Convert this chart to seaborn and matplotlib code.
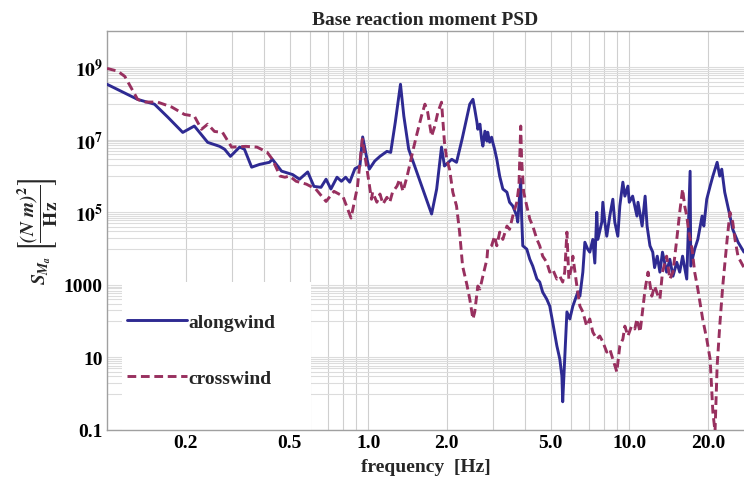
import matplotlib
matplotlib.use("Agg")
import pandas as pd
import seaborn as sns
import matplotlib.pyplot as plt
from matplotlib.patches import Rectangle
from matplotlib.ticker import FixedLocator, FixedFormatter, NullFormatter

# alongwind base moment PSD
along_freq = [0.100, 0.131, 0.152, 0.171, 0.195, 0.216, 0.243, 0.270, 0.282, 0.297,
              0.322, 0.336, 0.358, 0.384, 0.419, 0.430, 0.466, 0.514, 0.546, 0.587,
              0.620, 0.660, 0.690, 0.720, 0.760, 0.790, 0.820, 0.850, 0.890, 0.930,
              0.953, 0.990, 1.010, 1.060, 1.110, 1.180, 1.220, 1.270, 1.330, 1.370,
              1.430, 1.570, 1.750, 1.830, 1.910, 1.960, 2.090, 2.180, 2.290, 2.450,
              2.520, 2.560, 2.610, 2.630, 2.680, 2.720, 2.750, 2.800, 2.850, 2.870,
              2.920, 2.970, 3.000, 3.050, 3.110, 3.190, 3.280, 3.400, 3.480, 3.580,
              3.710, 3.740, 3.840, 3.870, 3.910, 4.050, 4.160, 4.270, 4.430, 4.540,
              4.660, 4.830, 4.960, 5.090, 5.280, 5.420, 5.520, 5.560, 5.660, 5.770,
              5.920, 6.080, 6.350, 6.470, 6.640, 6.760, 6.930, 7.060, 7.250, 7.380,
              7.510, 7.580, 7.850, 7.920, 8.060, 8.200, 8.420, 8.650, 8.800, 9.040,
              9.200, 9.450, 9.620, 9.880, 10.00, 10.30, 10.70, 10.80, 11.20, 11.50,
              11.70, 12.00, 12.30, 12.50, 12.80, 13.10, 13.40, 13.90, 14.30, 14.70,
              15.20, 15.60, 16.00, 16.60, 17.10, 17.20, 17.80, 18.30, 19.00, 19.30,
              19.80, 20.40, 20.90, 21.70, 22.20, 22.60, 23.20, 24.30, 24.90, 26.10,
              27.50]
along_psd = [3.4e8, 1.3e8, 9.6e7, 4.2e7, 1.6e7, 2.4e7, 8.5e6, 6.6e6, 5.5e6, 3.5e6,
             6.3e6, 5.5e6, 1.76e6, 2.1e6, 2.4e6, 2.9e6, 1.37e6, 1.1e6, 8.2e5, 1.3e6,
             5.2e5, 4.9e5, 8.2e5, 4.4e5, 9.3e5, 7.2e5, 9.3e5, 6.8e5, 1.6e6, 1.9e6,
             1.2e7, 2.9e6, 1.55e6, 2.6e6, 3.5e6, 4.8e6, 4.5e6, 3.0e7, 3.4e8, 4.5e7,
             5.5e6, 8.2e5, 9.0e4, 4.4e5, 6.3e6, 1.9e6, 2.9e6, 2.4e6, 1.05e7, 9.6e7,
             1.31e8, 7.0e7, 3.05e7, 1.96e7, 2.7e7, 1.04e7, 6.7e6, 1.73e7, 9.2e6, 1.62e7,
             8.6e6, 1.18e7, 8.6e6, 5.5e6, 2.9e6, 9.9e5, 4.4e5, 3.6e5, 1.9e5, 1.5e5,
             7.9e4, 5.4e4, 8.2e5, 7.9e4, 1.2e4, 9.7e3, 5.1e3, 3.3e3, 1.45e3, 1.2e3,
             630, 405, 260, 94, 21, 9.0, 3.1, 0.6, 9.0, 180,
             115, 260, 630, 490, 2.25e3, 1.5e4, 9.7e3, 8.0e3, 1.8e4, 4.0e3,
             1.0e5, 1.8e4, 5.4e4, 1.9e5, 5.4e4, 2.2e4, 7.9e4, 2.3e5, 5.4e4, 2.2e4,
             1.5e5, 6.8e5, 2.8e5, 5.3e5, 1.9e5, 2.8e5, 7.9e4, 1.9e5, 4.2e4, 2.8e5,
             4.2e4, 1.2e4, 8.0e3, 3.0e3, 6.2e3, 2.25e3, 8.0e3, 2.25e3, 5.1e3, 1.74e3,
             4.2e3, 2.25e3, 6.2e3, 1.45e3, 1.36e6, 3.3e3, 9.7e3, 1.8e4, 7.9e4, 4.2e4,
             2.3e5, 5.3e5, 1.0e6, 2.4e6, 1.0e6, 1.55e6, 3.6e5, 7.9e4, 3.4e4, 1.5e4,
             8.0e3]

# crosswind base moment PSD
cross_freq = [0.100, 0.110, 0.117, 0.131, 0.139, 0.156, 0.177, 0.198, 0.216, 0.230,
              0.243, 0.258, 0.277, 0.300, 0.340, 0.375, 0.410, 0.430, 0.460, 0.480,
              0.500, 0.530, 0.580, 0.630, 0.690, 0.740, 0.800, 0.860, 0.910, 0.950,
              0.990, 1.030, 1.040, 1.080, 1.110, 1.140, 1.180, 1.210, 1.240, 1.290,
              1.320, 1.360, 1.410, 1.440, 1.480, 1.530, 1.600, 1.650, 1.690, 1.750,
              1.800, 1.850, 1.910, 1.960, 2.000, 2.050, 2.110, 2.180, 2.240, 2.300,
              2.390, 2.450, 2.520, 2.560, 2.630, 2.680, 2.750, 2.850, 2.870, 2.970,
              3.050, 3.110, 3.190, 3.280, 3.400, 3.480, 3.580, 3.710, 3.780, 3.840,
              3.870, 3.940, 4.050, 4.160, 4.270, 4.430, 4.540, 4.660, 4.830, 4.960,
              5.090, 5.280, 5.420, 5.560, 5.660, 5.770, 5.870, 6.030, 6.080, 6.300,
              6.470, 6.640, 6.870, 7.060, 7.250, 7.510, 7.710, 7.920, 8.200, 8.420,
              8.650, 8.960, 9.200, 9.450, 9.620, 9.880, 10.20, 10.50, 10.70, 11.00,
              11.30, 11.50, 11.80, 12.20, 12.50, 12.90, 13.10, 13.40, 13.90, 14.30,
              14.70, 15.20, 15.60, 16.00, 16.30, 16.60, 16.90, 17.40, 17.80, 18.30,
              19.10, 19.80, 20.40, 20.90, 21.30, 21.70, 22.20, 22.80, 23.70, 24.30,
              24.90, 25.40, 26.10, 27.50]
cross_psd = [9.3e8, 7.8e8, 5.6e8, 1.3e8, 1.1e8, 1.1e8, 8.0e7, 5.0e7, 4.5e7, 1.95e7,
             2.7e7, 1.7e7, 1.6e7, 6.3e6, 6.6e6, 6.3e6, 4.6e6, 2.9e6, 1.0e6, 9.3e5,
             1.0e6, 7.2e5, 6.0e5, 4.4e5, 2.0e5, 3.8e5, 2.8e5, 7.0e4, 5.0e5, 1.05e7,
             1.55e6, 2.3e5, 3.6e5, 1.9e5, 3.2e5, 1.7e5, 2.6e5, 1.9e5, 3.6e5, 5.3e5,
             8.2e5, 3.8e5, 9.9e5, 1.9e6, 4.6e6, 1.26e7, 4.5e7, 9.6e7, 5.8e7, 1.26e7,
             2.4e7, 5.8e7, 1.09e8, 8.6e6, 2.9e6, 1.55e6, 3.6e5, 1.5e5, 2.85e4, 3.3e3,
             1.0e3, 405, 115, 180, 930, 770, 1.74e3, 5.1e3, 9.7e3, 1.2e4,
             2.2e4, 1.2e4, 2.85e4, 1.8e4, 4.2e4, 3.4e4, 7.9e4, 1.9e5, 5.3e5, 2.4e7,
             2.9e6, 3.6e5, 1.5e5, 6.5e4, 4.2e4, 1.8e4, 1.2e4, 6.2e3, 4.2e3, 2.25e3,
             2.7e3, 1.45e3, 1.74e3, 1.2e3, 2.25e3, 2.85e4, 1.45e3, 3.3e3, 6.2e3, 930,
             260, 180, 73, 115, 50, 32, 39, 27, 14, 17,
             9.0, 4.0, 21, 32, 73, 39, 73, 61, 115, 50,
             260, 770, 2.25e3, 490, 930, 490, 405, 2.25e3, 6.2e3, 1.45e3,
             2.25e3, 1.8e4, 1.0e5, 4.4e5, 1.5e5, 7.9e4, 2.85e4, 9.7e3, 2.25e3, 770,
             115, 32, 9.0, 0.31, 0.09, 5.8, 73, 930, 1.8e4, 1.0e5,
             5.4e4, 1.8e4, 6.0e3, 3.0e3]

along_df = pd.DataFrame({"frequency": along_freq, "psd": along_psd})
cross_df = pd.DataFrame({"frequency": cross_freq, "psd": cross_psd})

sns.set_theme(style="white")
plt.rcParams["font.family"] = ["Liberation Serif", "DejaVu Serif"]
plt.rcParams["font.weight"] = "bold"
plt.rcParams["mathtext.fontset"] = "stix"

blue = "#2e2a92"
purple = "#98305f"

fig = plt.figure(figsize=(7.44, 4.81), dpi=100)
ax = fig.add_axes([107 / 744, 50 / 481, 637 / 744, 399 / 481])

sns.lineplot(data=along_df, x="frequency", y="psd", ax=ax, color=blue,
             linewidth=2.1, label="alongwind", sort=False, zorder=3)
sns.lineplot(data=cross_df, x="frequency", y="psd", ax=ax, color=purple,
             linewidth=2.1, label="crosswind", sort=False, zorder=3)
ax.lines[1].set_dashes([3.0, 1.6])

ax.set_xscale("log")
ax.set_yscale("log")
ax.set_xlim(0.1, 27.5)
ax.set_ylim(0.1, 1e10)

# x ticks
xmaj = [0.2, 0.5, 1.0, 2.0, 5.0, 10.0, 20.0]
xmin = [0.3, 0.4, 0.6, 0.7, 0.8, 0.9, 3, 4, 6, 7, 8, 9]
ax.xaxis.set_major_locator(FixedLocator(xmaj))
ax.xaxis.set_major_formatter(FixedFormatter(["0.2", "0.5", "1.0", "2.0", "5.0", "10.0", "20.0"]))
ax.xaxis.set_minor_locator(FixedLocator(xmin))
ax.xaxis.set_minor_formatter(NullFormatter())

# y ticks: labelled odd decades, grid in the decade below each
ymaj = [0.1, 10, 1000, 1e5, 1e7, 1e9]
ylab = ["0.1", "10", "1000", r"$\mathbf{10^{5}}$", r"$\mathbf{10^{7}}$", r"$\mathbf{10^{9}}$"]
ax.yaxis.set_major_locator(FixedLocator(ymaj))
ax.yaxis.set_major_formatter(FixedFormatter(ylab))
ymin = [j * 10.0 ** e for e in (0, 2, 4, 6, 8) for j in range(1, 10)]
ax.yaxis.set_minor_locator(FixedLocator(ymin))
ax.yaxis.set_minor_formatter(NullFormatter())

ax.set_axisbelow(True)
ax.xaxis.grid(True, which="both", color="#cfcfcf", linewidth=0.8)
ax.yaxis.grid(True, which="both", color="#dcdcdc", linewidth=0.8)

ax.tick_params(axis="both", which="major", direction="in", length=4, width=0.8,
               color="#888888", labelsize=14, pad=3, labelcolor="black")
ax.tick_params(axis="both", which="minor", direction="in", length=2, width=0.6,
               color="#888888")
for lab in ax.get_xticklabels() + ax.get_yticklabels():
    lab.set_fontweight("bold")

for side in ["left", "bottom", "top"]:
    ax.spines[side].set_color("#a0a0a0")
    ax.spines[side].set_linewidth(1.0)
ax.spines["right"].set_visible(False)

# white legend panel in the lower left
ax.add_patch(Rectangle((0.0235, 0.0), 0.296, 0.37, transform=ax.transAxes,
                       facecolor="white", edgecolor="none", zorder=1.5))
leg = ax.legend(loc="center left", bbox_to_anchor=(0.0314, 0.20), frameon=False,
                handlelength=3.1, handletextpad=0.05, labelspacing=2.0,
                borderpad=0, borderaxespad=0,
                prop={"family": "Liberation Serif", "weight": "bold", "size": 14})
leg.set_zorder(4)

ax.set_title("Base reaction moment PSD", fontsize=14, fontweight="bold", pad=5)
ax.set_xlabel("frequency  [Hz]", fontsize=14, fontweight="bold", labelpad=5)
ax.set_ylabel(r"$S_{M_a}\ \left[\dfrac{\mathbfit{(N\ m)}^{\mathbf{2}}}{\mathbf{Hz}}\right]$",
              fontsize=14, labelpad=2)

fig.savefig("out.png", dpi=100)
